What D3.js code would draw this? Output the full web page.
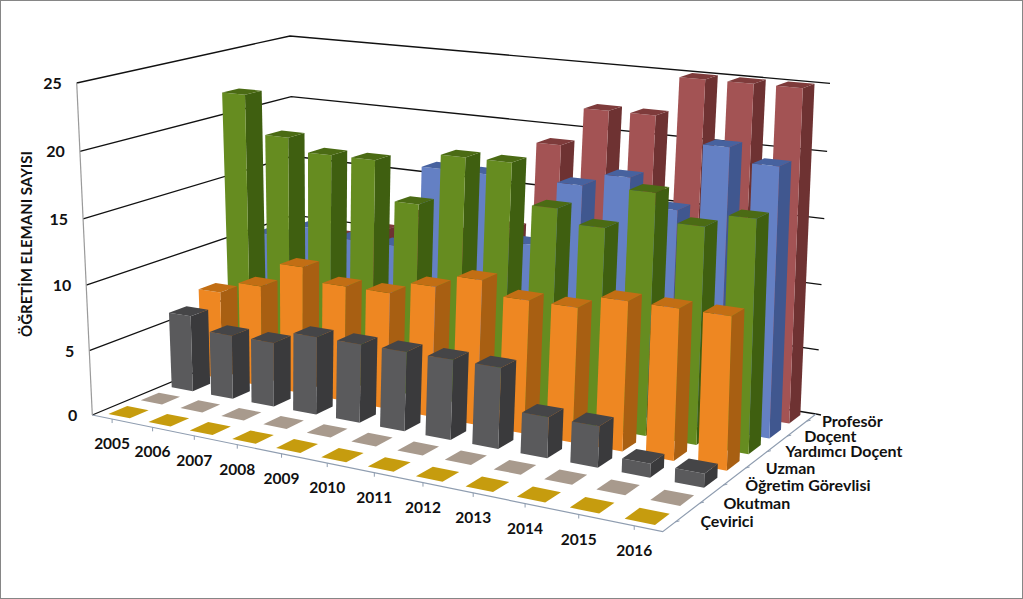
<!DOCTYPE html>
<html><head><meta charset="utf-8">
<script src="https://cdn.jsdelivr.net/npm/d3@7/dist/d3.min.js"></script>
<style>html,body{margin:0;padding:0;background:#fff}svg{display:block}text{font-family:Lato,"Open Sans",sans-serif;font-weight:700;fill:#111}</style>
</head><body><svg id="c" width="1023" height="599"></svg>
<script>
const years=["2005","2006","2007","2008","2009","2010","2011","2012","2013","2014","2015","2016"];
const seriesNames=["Çevirici","Okutman","Öğretim Görevlisi","Uzman","Yardımcı Doçent","Doçent","Profesör"];
const valueTicks=[0,5,10,15,20,25];
const ceviriciVals=[0,0,0,0,0,0,0,0,0,0,0,0];
const okutmanVals=[0,0,0,0,0,0,0,0,0,0,0,0];
const gorevliVals=[6,5,5,6,6,6,6,6,3,3,1,1];
const uzmanVals=[7,8,10,9,9,10,11,10,10,11,11,11];
const yrdDocVals=[22,19,18,18,15,19,19,16,15,18,16,17];
const docentVals=[10,11,10.5,10.5,17,17,12,17,18,16,21,20];
const profVals=[9,9.5,10.5,12,11,12,19,22,22,25,25,25];
const seriesVals=[ceviriciVals,okutmanVals,gorevliVals,uzmanVals,yrdDocVals,docentVals,profVals];
const seriesColors=[
 {f:"#C69C0E",s:"#C69C0E",t:"#C69C0E"},
 {f:"#A89A8D",s:"#A89A8D",t:"#A89A8D"},
 {f:"#5A5A5C",s:"#3A3A3C",t:"#454547"},
 {f:"#EE8722",s:"#A85F12",t:"#C26E14"},
 {f:"#668C20",s:"#3F5F10",t:"#4B6B14"},
 {f:"#6480C4",s:"#40578F",t:"#47629F"},
 {f:"#A35354",s:"#6E3232",t:"#7E3B3B"}];

function homography(q){const [p0,p1,p2,p3]=q;
 const dx1=p1[0]-p2[0],dx2=p3[0]-p2[0],sx=p0[0]-p1[0]+p2[0]-p3[0];
 const dy1=p1[1]-p2[1],dy2=p3[1]-p2[1],sy=p0[1]-p1[1]+p2[1]-p3[1];
 const den=dx1*dy2-dx2*dy1,g=(sx*dy2-dx2*sy)/den,h=(dx1*sy-sx*dy1)/den;
 const a=p1[0]-p0[0]+g*p1[0],b=p3[0]-p0[0]+h*p3[0],d=p1[1]-p0[1]+g*p1[1],e=p3[1]-p0[1]+h*p3[1];
 return (u,v)=>{const w=g*u+h*v+1;return [(a*u+b*v+p0[0])/w,(d*u+e*v+p0[1])/w];};}
const floorH=homography([[92.3,415],[662.7,531.7],[816,414],[296,330]]);
const topH=homography([[76.7,83],[672,142],[830,83.3],[290,36]]);
const yScale=d3.scaleLinear().domain([0,25]).range([0,1]);
const persp=.963;
function project(u,v,val){const t0=yScale(val),t=persp*t0/(1-t0+persp*t0);
 const a=floorH(u,v),b=topH(u,v);return [a[0]+(b[0]-a[0])*t,a[1]+(b[1]-a[1])*t];}
const xScale=d3.scaleBand().domain(years).range([0,1]).paddingInner(.46).paddingOuter(.23);
const zScale=d3.scaleBand().domain(seriesNames).range([0,1]).paddingInner(.42).paddingOuter(.21);
const svg=d3.select("#c");
svg.append("rect").attr("x",.5).attr("y",.5).attr("width",1022).attr("height",598).attr("fill","#fff").attr("stroke","#868686");
const line=d3.line();
const wall=svg.append("g");
valueTicks.forEach(k=>{
 wall.append("path").attr("d",line([project(0,0,k),project(0,1,k),project(1,1,k)])).attr("fill","none").attr("stroke","#111").attr("stroke-width",1.3);
});
wall.append("path").attr("d",line([project(0,0,0),project(0,0,25)])).attr("fill","none").attr("stroke","#9a9a9a").attr("stroke-width",1.2);
wall.append("path").attr("d",line([project(1,1,0),[project(1,1,0)[0]+5,project(1,1,0)[1]+1]])).attr("fill","none").attr("stroke","#111").attr("stroke-width",1.3);
wall.append("path").attr("d",line([project(0,0,0),project(1,0,0),project(1,1,0)])).attr("fill","none").attr("stroke","#8f9db0").attr("stroke-width",1.2);
years.forEach(y=>{const u=xScale(y)+xScale.bandwidth()/2,p=project(u,0,0);
 wall.append("path").attr("d",line([p,[p[0],p[1]+4]])).attr("stroke","#8f9db0").attr("fill","none");
 svg.append("text").attr("x",p[0]).attr("y",p[1]+30).attr("text-anchor","middle").attr("font-size",15.5).text(y);});
seriesNames.forEach((s,i)=>{const v=zScale(s)+zScale.bandwidth()/2,p=project(1,v,0);
 wall.append("path").attr("d",line([p,[p[0]+4,p[1]-1]])).attr("stroke","#8f9db0").attr("fill","none");
 svg.append("text").attr("x",p[0]+25-i*1.6).attr("y",p[1]+5.5).attr("font-size",16).text(s);});
valueTicks.forEach(k=>{const p=project(0,0,k);
 svg.append("text").attr("x",p[0]-15).attr("y",p[1]+6).attr("text-anchor","end").attr("font-size",16).text(k);});
svg.append("text").attr("transform","translate(32,244) rotate(-90)").attr("text-anchor","middle").attr("font-size",15).text("ÖĞRETİM ELEMANI SAYISI");
const order=d3.range(seriesNames.length).reverse();
const rows=svg.selectAll("g.row").data(order).join("g").attr("class","row");
rows.each(function(si){
 const c=seriesColors[si],v0=zScale(seriesNames[si]),v1=v0+zScale.bandwidth();
 const bars=d3.select(this).selectAll("g").data(seriesVals[si].map((val,i)=>({val,y:years[i]}))).join("g");
 bars.each(function(d){const g=d3.select(this),u0=xScale(d.y),u1=u0+xScale.bandwidth();
  if(d.val>0){
   g.append("path").attr("d",line([project(u1,v0,0),project(u1,v1,0),project(u1,v1,d.val),project(u1,v0,d.val)])+"Z").attr("fill",c.s);
   g.append("path").attr("d",line([project(u0,v0,0),project(u1,v0,0),project(u1,v0,d.val),project(u0,v0,d.val)])+"Z").attr("fill",c.f);
  }
  g.append("path").attr("d",line([project(u0,v0,d.val),project(u1,v0,d.val),project(u1,v1,d.val),project(u0,v1,d.val)])+"Z").attr("fill",c.t);
 });
});
</script></body></html>
